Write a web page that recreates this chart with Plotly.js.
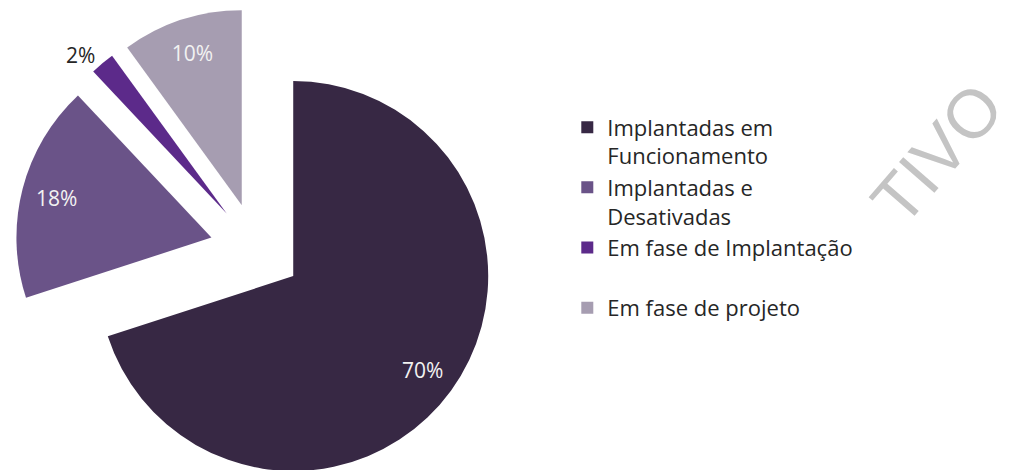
<!DOCTYPE html>
<html>
<head>
<meta charset="utf-8">
<script src="https://cdn.plot.ly/plotly-3.0.1.min.js"></script>
<style>
  html, body { margin: 0; padding: 0; background: #ffffff; overflow: hidden; }
  #wrap { position: relative; width: 1024px; height: 470px; overflow: hidden; }
  #chart { position: absolute; left: 0; top: 0; width: 1024px; height: 498px; }
</style>
</head>
<body>
<div id="wrap"><div id="chart"></div></div>
<script>
// Data
var categories = [
  "Implantadas em<br>Funcionamento",
  "Implantadas e<br>Desativadas",
  "Em fase de Implantação<br> ",
  "Em fase de projeto"
];
var shares = [70, 18, 2, 10];
var sliceColors = ["#372844", "#6a5388", "#5c2a8a", "#a69db1"];
var watermarkText = "TIVO";

var FONT = "Open Sans, Noto Sans, sans-serif";
var PULL = 0.236;

var base = {
  type: "pie",
  labels: categories,
  values: shares,
  sort: false,
  direction: "clockwise",
  rotation: 0,
  pull: PULL,
  domain: { x: [0, 0.5], y: [0, 1] },
  marker: { colors: sliceColors, line: { width: 0 } },
  texttemplate: "%{percent:.0%}",
  textposition: ["none", "none", "outside", "none"],
  outsidetextfont: { family: FONT, size: 21, color: "#262626" },
  hoverinfo: "label+percent",
  showlegend: true
};

// transparent ring carrying the inside labels near the outer edge
var labelsRing = {
  type: "pie",
  labels: categories,
  values: shares,
  sort: false,
  direction: "clockwise",
  rotation: 0,
  pull: PULL,
  hole: 0.64,
  domain: { x: [0, 0.5], y: [0, 1] },
  marker: { colors: ["rgba(0,0,0,0)", "rgba(0,0,0,0)", "rgba(0,0,0,0)", "rgba(0,0,0,0)"], line: { width: 0 } },
  texttemplate: "%{percent:.0%}",
  textposition: ["inside", "inside", "none", "inside"],
  insidetextorientation: "horizontal",
  insidetextfont: { family: FONT, size: 21, color: "#f2f2f2" },
  hoverinfo: "skip",
  showlegend: false
};

var layout = {
  width: 1024,
  height: 498,
  margin: { l: 0, r: 0, t: 8, b: 8 },
  paper_bgcolor: "#ffffff",
  plot_bgcolor: "#ffffff",
  font: { family: FONT, size: 22, color: "#262626" },
  showlegend: true,
  legend: {
    x: 0.554, xanchor: "left",
    y: 0.796, yanchor: "top",
    valign: "top",
    traceorder: "normal",
    bgcolor: "rgba(0,0,0,0)",
    font: { family: FONT, size: 22, color: "#262626" }
  },
  annotations: [{
    text: watermarkText,
    xref: "paper", yref: "paper",
    x: 0.915, y: 0.70,
    xanchor: "center", yanchor: "middle",
    textangle: -49,
    showarrow: false,
    font: { family: "Liberation Sans, Arial, sans-serif", size: 68, color: "#c4c4c4" }
  }]
};

Plotly.newPlot("chart", [base, labelsRing], layout, { displayModeBar: false, staticPlot: true });
</script>
</body>
</html>
